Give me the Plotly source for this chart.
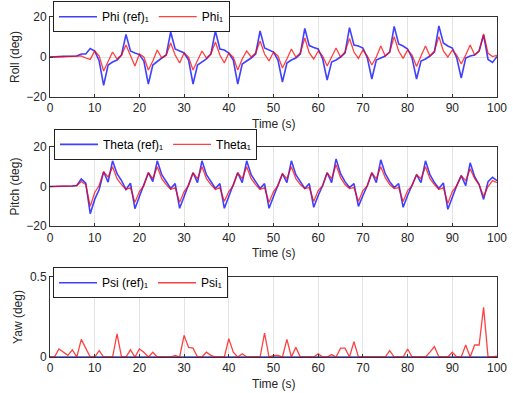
import plotly.graph_objects as go

t = list(range(0, 101))

roll_ref = [0, 0, 0.2, 0.3, 0.4, 0.5, 0.5, 1.5, 1.5, 4.2,
            3, -2, -14.2, -4, -2.5, -1.5, 1, 11.3, 3, 2,
            1.2, -2, -13.5, -4, -2, -0.5, 1, 12.5, 4, 3,
            2, -1.5, -13.5, -4, -2.5, -1, 1.5, 13, 4, 3.5,
            2, -1.5, -13.5, -3.5, -2, -0.5, 1.5, 13, 4.5, 3.5,
            2.5, -1.5, -12.5, -3, -1.5, -0.5, 1.5, 14.3, 5.7, 4.7,
            4, -1, -11.5, -2.5, -1.5, 0, 2, 14.7, 6, 5.5,
            4.5, -0.5, -11, -1.5, -0.5, 0.5, 2.5, 15.3, 6.5, 5.5,
            4, -0.5, -11, -2, -1, 0.5, 2.5, 15.5, 7, 5.5,
            4.5, -0.5, -10.5, -0.5, 0.5, 1, 3, 11, -1.2, -2.7,
            0.3]
roll_meas = [0, 0, 0.1, 0.2, 0.3, 0.3, 0.4, 0.5, -0.5, -1.2,
             3, 0.5, -7, -2, 2.5, -1, 1, 6, 0.5, -4.5,
             1.5, 0, -6.5, -2, 3.5, -0.5, 1, 7, 1, -3,
             2, 0, -6.5, -1.5, 3, -0.5, 1.5, 7.5, 1, -3,
             2, 0, -6.5, -1, 3, 0, 2, 8, 1.5, -2,
             2.5, 0.5, -5.5, -1, 4, 0, 2, 9.5, 2, -1,
             3, 0.5, -4.5, 0, 4.5, 0, 2.5, 9.3, 2.5, -0.7,
             3.5, 0.5, -4, 0, 5.5, 0.5, 2.5, 10.2, 3, -0.7,
             3.5, 1, -4.7, 0.5, 5.5, 0.5, 3, 10.2, 3, 0,
             3.5, 1, -3.5, 1, 6, 1, 3, 11.5, 1.8, 0.2,
             0.8]

pitch_ref = [0, 0, 0.1, 0.2, 0.3, 0.3, 0.5, 3.8, 1.7, -13.7,
             -6.5, -1.5, 7.5, 2.2, 13, 6.5, 3, -1.5, 1.7, -11.2,
             -5, 0.5, 7, 2.5, 13, 6, 2.5, -1, 1.5, -11,
             -5, 0.5, 7, 2, 13, 6, 2.5, -1, 1.5, -11,
             -5, 0.5, 7, 2, 13, 6, 2.5, -1, 1.5, -11,
             -5, 0.5, 6.5, 2, 13, 6, 2.5, -1, 1.5, -10.5,
             -4.5, 0.5, 7, 2, 14, 6.5, 2.5, -0.5, 1.5, -10,
             -4.5, 0.5, 7, 2, 13.5, 6.5, 2.5, -0.5, 1.5, -10.5,
             -4.5, 0.5, 6, 2, 13, 6, 2, -1, 1.8, -11.5,
             -5, 0.5, 5.5, 0.5, 12, 5, 1, -6.5, 2.5, 4.7,
             3]
pitch_meas = [0, 0, 0.1, 0.2, 0.3, 0.3, 0.5, 2.5, 1, -10,
              -3, 0.5, 7.5, 4.8, 10, 4, 1, -1.5, -0.5, -8,
              -2.5, 0.5, 7, 4, 10, 4, 1, -1.5, -0.5, -8,
              -2.5, 0.5, 7, 4, 10, 4, 1, -1.5, -0.5, -7.5,
              -2.5, 0.5, 7, 4, 10, 4, 1, -1.5, -0.5, -8,
              -2.5, 0.5, 6.5, 4, 10, 4, 1, -1, -0.5, -7.5,
              -2, 0.5, 7, 4, 11, 4.5, 1, -1, -0.5, -7.5,
              -2, 0.5, 7, 4, 10, 4.5, 1, -1, -0.5, -7.5,
              -2, 0.5, 6, 4, 10, 4, 1, -1.5, -0.5, -8.5,
              -2.5, 0.5, 5.5, 3, 9, 4, 1, -5, 0, 3,
              2]

yaw_ref = [0] * 101
yaw_meas = [0, 0, 0.05, 0.03, 0.01, 0.045, 0, 0.11, 0.05, 0,
            0, 0.04, 0, 0, 0, 0.145, 0, 0, 0.045, 0,
            0.05, 0.03, 0, 0.03, 0, 0, 0, 0, 0.01, 0,
            0.135, 0.06, 0.055, 0, 0, 0.03, 0.01, 0, 0, 0,
            0.115, 0.03, 0, 0.02, 0, 0, 0, 0, 0.15, 0,
            0.01, 0.01, 0, 0.11, 0, 0.06, 0, 0, 0, 0,
            0.02, 0, 0, 0.015, 0, 0.055, 0.055, 0, 0.095, 0,
            0, 0, 0, 0, 0, 0, 0.04, 0, 0, 0,
            0.05, 0, 0, 0, 0, 0.03, 0.065, 0, 0, 0,
            0.03, 0, 0, 0.075, 0, 0.075, 0.075, 0.31, 0, 0,
            0.005]

x_ticks = [0, 10, 20, 30, 40, 50, 60, 70, 80, 90, 100]
x_title = "Time (s)"

BLUE = "rgba(0,0,255,0.75)"
RED = "rgba(255,0,0,0.75)"
TXT = "#262626"
GRID = "#e3e3e3"
AX = "#333333"
FONT = "Liberation Sans, Arial, sans-serif"

fig = go.Figure()

panels = [
    (roll_ref, roll_meas, "Phi (ref)\u2081", "Phi\u2081", "legend"),
    (pitch_ref, pitch_meas, "Theta (ref)\u2081", "Theta\u2081", "legend2"),
    (yaw_ref, yaw_meas, "Psi (ref)\u2081", "Psi\u2081", "legend3"),
]
for i, (ref, meas, n1, n2, leg) in enumerate(panels):
    sfx = "" if i == 0 else str(i + 1)
    fig.add_trace(go.Scatter(x=t, y=ref, mode="lines", name=n1,
                             line=dict(color=BLUE, width=1.6),
                             xaxis="x" + sfx, yaxis="y" + sfx, legend=leg))
    fig.add_trace(go.Scatter(x=t, y=meas, mode="lines", name=n2,
                             line=dict(color=RED, width=1.3),
                             xaxis="x" + sfx, yaxis="y" + sfx, legend=leg))

def xax(anchor):
    return dict(range=[0, 100], tickvals=x_ticks, showgrid=True, gridcolor=GRID,
                gridwidth=1, zeroline=False, showline=True, linecolor=AX, linewidth=1,
                mirror=True, ticks="inside", ticklen=3, tickcolor=AX,
                tickfont=dict(size=12, color=TXT, family=FONT),
                anchor=anchor)

def yax(rng, tv, title, dom, anchor):
    return dict(range=rng, tickvals=tv, domain=dom, anchor=anchor, showgrid=True,
                gridcolor=GRID, gridwidth=1, zeroline=False, showline=True,
                linecolor=AX, linewidth=1, mirror=True, ticks="inside", ticklen=3,
                tickcolor=AX,
                tickfont=dict(size=12, color=TXT, family=FONT),
                title=dict(text=title, font=dict(size=12, color=TXT, family=FONT),
                           standoff=4))

y_domains = [[0.7647, 1.0], [0.385, 0.6176], [0.0, 0.2353]]

leg_common = dict(orientation="h", bgcolor="white", bordercolor="#222222", borderwidth=1,
                  font=dict(size=12, color="#000000", family=FONT), itemwidth=38,
                  xanchor="left", yanchor="top", xref="container", yref="container",
                  tracegroupgap=0)

annotations = []
for dom in y_domains:
    annotations.append(dict(text=x_title, xref="paper", yref="paper", x=0.5,
                            y=dom[0] - 26.5 / 340, xanchor="center", yanchor="middle",
                            showarrow=False, font=dict(size=12, color=TXT, family=FONT)))

fig.update_layout(
    width=513, height=393,
    paper_bgcolor="white", plot_bgcolor="white",
    margin=dict(l=49.5, r=15.5, t=17, b=36, autoexpand=False),
    font=dict(family=FONT, size=12, color=TXT),
    xaxis=xax("y"), xaxis2=xax("y2"), xaxis3=xax("y3"),
    yaxis=yax([-20, 20], [-20, 0, 20], "Roll (deg)", y_domains[0], "x"),
    yaxis2=yax([-20, 20], [-20, 0, 20], "Pitch (deg)", y_domains[1], "x2"),
    yaxis3=yax([0, 0.5], [0, 0.5], "Yaw (deg)", y_domains[2], "x3"),
    legend=dict(x=0.1033, y=0.997, **leg_common),
    legend2=dict(x=0.1053, y=0.672, **leg_common),
    legend3=dict(x=0.1033, y=0.32, **leg_common),
    annotations=annotations,
    showlegend=True,
)

fig.write_html("out.html", config={"displayModeBar": False},
               post_script="document.body.style.margin='0';")
